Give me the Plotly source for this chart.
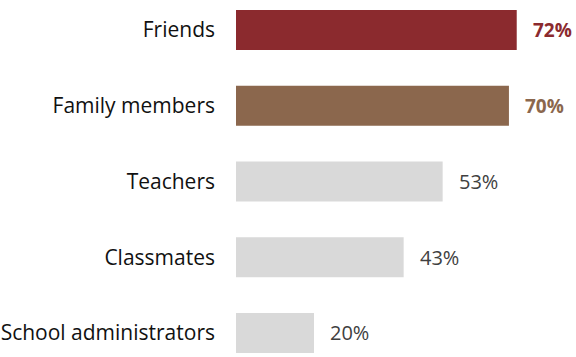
import plotly.graph_objects as go

categories = ["Friends", "Family members", "Teachers", "Classmates", "School administrators"]
values = [72, 70, 53, 43, 20]
bar_colors = ["#8B2A2E", "#8B674D", "#D9D9D9", "#D9D9D9", "#D9D9D9"]
label_colors = ["#8B2A2E", "#8B674D", "#404040", "#404040", "#404040"]
label_bold = [True, True, False, False, False]

FONT = "Open Sans"

fig = go.Figure(
    go.Bar(
        x=values,
        y=categories,
        orientation="h",
        marker=dict(color=bar_colors, line=dict(width=0)),
        width=0.53,
        hoverinfo="skip",
    )
)

for cat, val, col, bold in zip(categories, values, label_colors, label_bold):
    txt = f"<b>{val}%</b>" if bold else f"{val}%"
    fig.add_annotation(
        x=val, y=cat, text=txt, showarrow=False,
        xanchor="left", yanchor="middle", xshift=14,
        font=dict(family=FONT, size=19 if bold else 20, color=col),
    )

fig.update_layout(
    width=576, height=357,
    margin=dict(l=236, r=0, t=0, b=0),
    paper_bgcolor="white", plot_bgcolor="white",
    showlegend=False,
    font=dict(family=FONT, size=19, color="#111111"),
    xaxis=dict(range=[0, 87.2], visible=False, fixedrange=True),
    yaxis=dict(
        range=[4.317, -0.396], showgrid=False, zeroline=False, showline=False,
        ticks="", ticklabelstandoff=20, fixedrange=True,
        tickfont=dict(family=FONT, size=21, color="#111111"),
    ),
)

fig.write_html("out.html")
